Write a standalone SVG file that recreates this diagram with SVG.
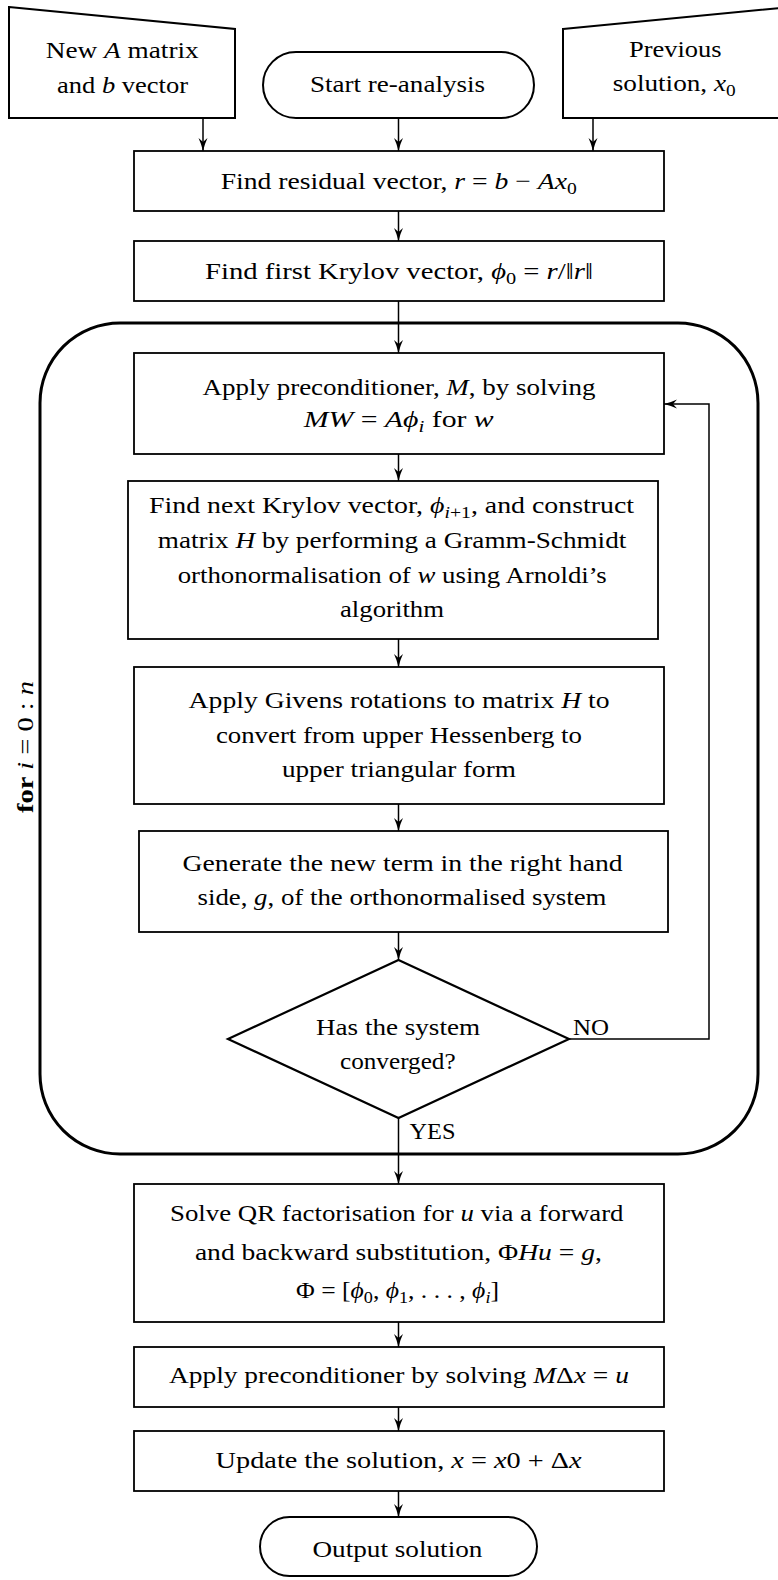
<svg xmlns="http://www.w3.org/2000/svg" width="778" height="1580" viewBox="0 0 778 1580">
  <style>
    .t { font-family: "Liberation Serif", "Times New Roman", "Tinos", serif; font-size: 24px; fill: #000; }
    .m { font-style: italic; }
    .s { font-size: 17px; }
    .b { font-weight: bold; }
    .box { fill: #fff; stroke: #000; stroke-width: 1.8; }
    .term { fill: #fff; stroke: #000; stroke-width: 2; }
    .loop { fill: none; stroke: #000; stroke-width: 3; }
    .dec { fill: #fff; stroke: #000; stroke-width: 2.2; }
    .edge { fill: none; stroke: #000; stroke-width: 1.5; }
  </style>
  <defs>
    <!-- stealth-style arrow tip -->
    <marker id="arr" viewBox="0 0 13 10" refX="13" refY="5" markerWidth="13" markerHeight="10" markerUnits="userSpaceOnUse" orient="auto">
      <path d="M13,5 Q6,3.4 0,0.5 L4,5 L0,9.5 Q6,6.6 13,5 Z" fill="#000"/>
    </marker>
  </defs>
  <rect width="778" height="1580" fill="#fff"/>

  <!-- iteration loop frame -->
  <g id="loop">
    <rect class="loop" x="40" y="323" width="718" height="831" rx="80" ry="80"/>
    <text class="t" transform="translate(33,813) rotate(-90)" x="0" y="0" textLength="132" lengthAdjust="spacingAndGlyphs"><tspan class="b">for</tspan> <tspan class="m">i</tspan> = 0 : <tspan class="m">n</tspan></text>
  </g>

  <!-- connectors -->
  <g id="connectors">
    <line class="edge" x1="203" y1="118" x2="203" y2="151" marker-end="url(#arr)"/>
    <line class="edge" x1="398.5" y1="118" x2="398.5" y2="151" marker-end="url(#arr)"/>
    <line class="edge" x1="593" y1="118" x2="593" y2="151" marker-end="url(#arr)"/>
    <line class="edge" x1="398.5" y1="211" x2="398.5" y2="241" marker-end="url(#arr)"/>
    <line class="edge" x1="398.5" y1="301" x2="398.5" y2="353" marker-end="url(#arr)"/>
    <line class="edge" x1="398.5" y1="454" x2="398.5" y2="481" marker-end="url(#arr)"/>
    <line class="edge" x1="398.5" y1="639" x2="398.5" y2="667" marker-end="url(#arr)"/>
    <line class="edge" x1="398.5" y1="804" x2="398.5" y2="831" marker-end="url(#arr)"/>
    <line class="edge" x1="398.5" y1="932" x2="398.5" y2="960" marker-end="url(#arr)"/>
    <line class="edge" x1="398.5" y1="1118" x2="398.5" y2="1184" marker-end="url(#arr)"/>
    <polyline class="edge" points="569,1039 709,1039 709,404 664,404" marker-end="url(#arr)"/>
    <line class="edge" x1="398.5" y1="1322" x2="398.5" y2="1347" marker-end="url(#arr)"/>
    <line class="edge" x1="398.5" y1="1407" x2="398.5" y2="1431" marker-end="url(#arr)"/>
    <line class="edge" x1="398.5" y1="1491" x2="398.5" y2="1517" marker-end="url(#arr)"/>
    <text class="t" x="573" y="1035" textLength="36" lengthAdjust="spacingAndGlyphs">NO</text>
    <text class="t" x="409.5" y="1139" textLength="46" lengthAdjust="spacingAndGlyphs">YES</text>
  </g>

  <!-- inputs -->
  <g id="input-matrix">
    <polygon class="term" points="9,7 235,29 235,118 9,118"/>
    <text class="t" x="45.7" y="58" textLength="153" lengthAdjust="spacingAndGlyphs">New <tspan class="m">A</tspan> matrix</text>
    <text class="t" x="57" y="92.5" textLength="131" lengthAdjust="spacingAndGlyphs">and <tspan class="m">b</tspan> vector</text>
  </g>
  <g id="start">
    <rect class="term" x="263" y="52" width="271" height="66" rx="33" ry="33"/>
    <text class="t" x="310" y="91.5" textLength="175" lengthAdjust="spacingAndGlyphs">Start re-analysis</text>
  </g>
  <g id="input-previous">
    <polygon class="term" points="563,29 790,7 790,118 563,118"/>
    <text class="t" x="629" y="56.7" textLength="92.5" lengthAdjust="spacingAndGlyphs">Previous</text>
    <text class="t" x="612.7" y="90.7" textLength="123" lengthAdjust="spacingAndGlyphs">solution, <tspan class="m">x</tspan><tspan class="s" dy="5">0</tspan></text>
  </g>

  <!-- set-up -->
  <g id="residual">
    <rect class="box" x="134" y="151" width="530" height="60"/>
    <text class="t" x="220.7" y="189.3" textLength="356" lengthAdjust="spacingAndGlyphs">Find residual vector, <tspan class="m">r</tspan> = <tspan class="m">b</tspan> − <tspan class="m">Ax</tspan><tspan class="s" dy="5">0</tspan></text>
  </g>
  <g id="first-krylov">
    <rect class="box" x="134" y="241" width="530" height="60"/>
    <text class="t" x="205" y="279" textLength="388" lengthAdjust="spacingAndGlyphs">Find first Krylov vector, <tspan class="m">ϕ</tspan><tspan class="s" dy="5">0</tspan><tspan dy="-5"> = </tspan><tspan class="m">r</tspan>/‖<tspan class="m">r</tspan>‖</text>
  </g>

  <!-- loop body -->
  <g id="precondition">
    <rect class="box" x="134" y="353" width="530" height="101"/>
    <text class="t" x="202.5" y="395" textLength="393" lengthAdjust="spacingAndGlyphs">Apply preconditioner, <tspan class="m">M</tspan>, by solving</text>
    <text class="t" x="303.7" y="427" textLength="190" lengthAdjust="spacingAndGlyphs"><tspan class="m">MW</tspan> = <tspan class="m">Aϕ</tspan><tspan class="s m" dy="5">i</tspan><tspan dy="-5"> for </tspan><tspan class="m">w</tspan></text>
  </g>
  <g id="arnoldi">
    <rect class="box" x="128" y="481" width="530" height="158"/>
    <text class="t" x="149" y="513" textLength="485" lengthAdjust="spacingAndGlyphs">Find next Krylov vector, <tspan class="m">ϕ</tspan><tspan class="s" dy="5"><tspan class="m">i</tspan>+1</tspan><tspan dy="-5">, and construct</tspan></text>
    <text class="t" x="157.8" y="548" textLength="468.5" lengthAdjust="spacingAndGlyphs">matrix <tspan class="m">H</tspan> by performing a Gramm-Schmidt</text>
    <text class="t" x="177.7" y="583" textLength="429" lengthAdjust="spacingAndGlyphs">orthonormalisation of <tspan class="m">w</tspan> using Arnoldi’s</text>
    <text class="t" x="340" y="616.5" textLength="104" lengthAdjust="spacingAndGlyphs">algorithm</text>
  </g>
  <g id="givens">
    <rect class="box" x="134" y="667" width="530" height="137"/>
    <text class="t" x="188.6" y="708" textLength="421" lengthAdjust="spacingAndGlyphs">Apply Givens rotations to matrix <tspan class="m">H</tspan> to</text>
    <text class="t" x="215.9" y="742.5" textLength="366" lengthAdjust="spacingAndGlyphs">convert from upper Hessenberg to</text>
    <text class="t" x="281.9" y="776.5" textLength="234" lengthAdjust="spacingAndGlyphs">upper triangular form</text>
  </g>
  <g id="rhs-term">
    <rect class="box" x="139" y="831" width="529" height="101"/>
    <text class="t" x="182.6" y="870.5" textLength="440" lengthAdjust="spacingAndGlyphs">Generate the new term in the right hand</text>
    <text class="t" x="197.5" y="905" textLength="409" lengthAdjust="spacingAndGlyphs">side, <tspan class="m">g</tspan>, of the orthonormalised system</text>
  </g>
  <g id="converged">
    <polygon class="dec" points="398.5,960 569,1039 398.5,1118 228,1039"/>
    <text class="t" x="316" y="1035" textLength="164" lengthAdjust="spacingAndGlyphs">Has the system</text>
    <text class="t" x="340" y="1069" textLength="115.6" lengthAdjust="spacingAndGlyphs">converged?</text>
  </g>

  <!-- finishing steps -->
  <g id="qr-solve">
    <rect class="box" x="134" y="1184" width="530" height="138"/>
    <text class="t" x="170" y="1220.5" textLength="453.5" lengthAdjust="spacingAndGlyphs">Solve QR factorisation for <tspan class="m">u</tspan> via a forward</text>
    <text class="t" x="194.9" y="1260" textLength="407" lengthAdjust="spacingAndGlyphs">and backward substitution, Φ<tspan class="m">Hu</tspan> = <tspan class="m">g</tspan>,</text>
    <text class="t" x="296" y="1298" textLength="203" lengthAdjust="spacingAndGlyphs">Φ = [<tspan class="m">ϕ</tspan><tspan class="s" dy="5">0</tspan><tspan dy="-5">, </tspan><tspan class="m">ϕ</tspan><tspan class="s" dy="5">1</tspan><tspan dy="-5">, . . . , </tspan><tspan class="m">ϕ</tspan><tspan class="s m" dy="5">i</tspan><tspan dy="-5">]</tspan></text>
  </g>
  <g id="apply-preconditioner">
    <rect class="box" x="134" y="1347" width="530" height="60"/>
    <text class="t" x="168.9" y="1382.5" textLength="460" lengthAdjust="spacingAndGlyphs">Apply preconditioner by solving <tspan class="m">M</tspan>Δ<tspan class="m">x</tspan> = <tspan class="m">u</tspan></text>
  </g>
  <g id="update">
    <rect class="box" x="134" y="1431" width="530" height="60"/>
    <text class="t" x="215.6" y="1468" textLength="366" lengthAdjust="spacingAndGlyphs">Update the solution, <tspan class="m">x</tspan> = <tspan class="m">x</tspan>0 + Δ<tspan class="m">x</tspan></text>
  </g>
  <g id="output">
    <rect class="term" x="260" y="1517" width="277" height="59" rx="29.5" ry="29.5"/>
    <text class="t" x="312.4" y="1556.5" textLength="170" lengthAdjust="spacingAndGlyphs">Output solution</text>
  </g>
</svg>
